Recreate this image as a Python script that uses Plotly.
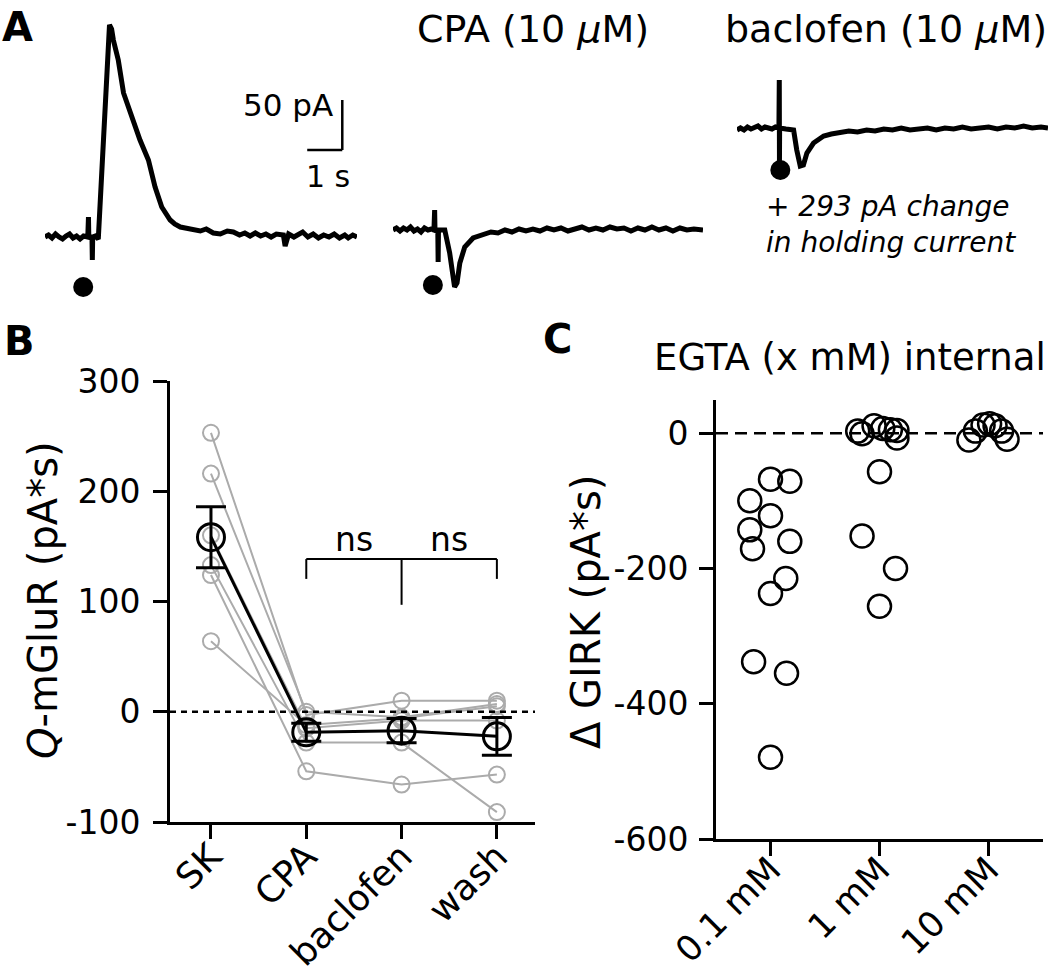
import numpy as np
import plotly.graph_objects as go

W, H = 1050, 974
FONT = "DejaVu Sans"

# ---------------- Panel A: example current traces (time s, current pA) ----------------
sk_t = [0.00, 0.10, 0.20, 0.30, 0.40, 0.50, 0.60, 0.70, 0.80, 0.90, 1.00, 1.10, 1.22, 1.24, 1.25, 1.34,
        1.35, 1.36, 1.44, 1.52, 1.84, 1.90, 1.95, 2.09, 2.24, 2.43, 2.60, 2.71, 2.95, 3.14, 3.33, 3.45,
        3.57, 3.70, 3.86, 4.00, 4.24, 4.43, 4.60, 4.80, 5.00, 5.20, 5.37, 5.55, 5.70, 5.85, 6.00, 6.15,
        6.30, 6.45, 6.60, 6.80, 6.85, 6.95, 7.10, 7.20, 7.35, 7.50, 7.65, 7.80, 7.95, 8.10, 8.25, 8.40,
        8.55, 8.65, 8.78, 8.90]
sk_i = [0, 2, -1, 3, 0, -2, 1, 3, -1, 1, -2, 1, 0, 20, 0, 0,
        -23, 0, 1, -2, 212, 208, 197, 177, 144, 124, 108, 97, 77, 50, 30, 23,
        17, 13, 10, 9, 7, 6, 8, 4, 3, 6, 5, 2, 4, 1, 4, 1,
        3, 0, 3, 2, -9, 3, 0, 2, 5, 0, 3, -1, 2, 0, 3, -1,
        2, -1, 2, 0]

cpa_t = [0.00, 0.10, 0.20, 0.30, 0.40, 0.50, 0.60, 0.70, 0.80, 0.90, 1.00, 1.10, 1.17, 1.19, 1.20, 1.28,
         1.29, 1.30, 1.48, 1.62, 1.76, 1.83, 1.91, 2.05, 2.29, 2.57, 2.80, 3.00, 3.20, 3.40, 3.60, 3.80,
         4.00, 4.20, 4.40, 4.60, 4.80, 5.00, 5.20, 5.40, 5.60, 5.80, 6.00, 6.20, 6.40, 6.60, 6.80, 7.00,
         7.20, 7.40, 7.60, 7.80, 8.00, 8.20, 8.40, 8.60, 8.86]
cpa_i = [0, 2, -1, 2, 0, 3, -1, 1, -2, 2, 0, 1, 0, 20, 0, 0,
         -32, 0, 0, -23, -57, -53, -33, -17, -8, -4, -2, -3, 0, -2, 1, -1,
         1, -1, 2, 0, 2, -1, 1, 3, 0, 2, 0, 3, 1, 2, -1, 2,
         0, 3, 0, 2, -1, 2, 0, 1, 0]

bac_t = [0.00, 0.10, 0.20, 0.30, 0.40, 0.50, 0.60, 0.70, 0.80, 0.90, 1.00, 1.10, 1.20, 1.21, 1.215, 1.22,
         1.40, 1.62, 1.71, 1.81, 1.90, 2.00, 2.19, 2.48, 2.70, 2.95, 3.20, 3.45, 3.71, 3.95, 4.20, 4.45,
         4.70, 4.95, 5.20, 5.45, 5.70, 5.95, 6.20, 6.45, 6.70, 6.95, 7.20, 7.45, 7.70, 7.95, 8.20, 8.45,
         8.70, 8.90]
bac_i = [-2, 0, -2, 1, -1, 0, 2, -1, 1, 0, -1, 1, 0, 48, -33, 0,
         -1, -2, -22, -38, -37, -25, -15, -8, -6, -5, -3, -4, -2, -3, -1, -2,
         0, -2, -1, 0, -2, 0, -1, 1, -1, 0, 1, -1, 1, 0, 2, 0,
         1, 0]

stim_t = [1.09, 1.14, 1.24]
stim_i = [-50, -55, -42]

# ---------------- Panel B: Q-mGluR per cell ----------------
b_categories = ["SK", "CPA", "baclofen", "wash"]
cell_1 = [253, -3, 10, 10]
cell_2 = [216, 0, -5, 7]
cell_3 = [160, -15, -8, -8]
cell_4 = [133, -28, -28, -91]
cell_5 = [124, -54, -66, -57]
cell_6 = [64, -12, -6, 5]
b_cells = [cell_1, cell_2, cell_3, cell_4, cell_5, cell_6]
b_ytick_vals = [-100, 0, 100, 200, 300]
b_ytick_text = ["-100", "0", "100", "200", "300"]

# ---------------- Panel C: delta GIRK ----------------
c_categories = ["0.1 mM", "1 mM", "10 mM"]
girk_01 = [-68, -71, -100, -122, -143, -160, -171, -215, -237, -338, -355, -479]
jit_01 = [0.0, 0.177, -0.19, 0.0, -0.19, 0.177, -0.165, 0.14, 0.0, -0.155, 0.147, 0.0]
girk_1 = [3, -1, 11, 7, 5, 4, -7, -57, -152, -200, -256]
jit_1 = [-0.20, -0.16, -0.05, 0.03, 0.10, 0.16, 0.16, 0.0, -0.16, 0.147, 0.0]
girk_10 = [-10, 3, 12, 14, 11, 3, -9]
jit_10 = [-0.18, -0.12, -0.05, 0.01, 0.06, 0.12, 0.17]
c_ytick_vals = [-600, -400, -200, 0]
c_ytick_text = ["-600", "-400", "-200", "0"]


def px(x):
    return x / W


def py(y):
    return 1 - y / H


fig = go.Figure()

# ---- Panel A traces ----
trace_line = dict(color="black", width=5)
fig.add_trace(go.Scatter(x=sk_t, y=sk_i, mode="lines", line=trace_line, xaxis="x2", yaxis="y2", showlegend=False))
fig.add_trace(go.Scatter(x=cpa_t, y=cpa_i, mode="lines", line=trace_line, xaxis="x3", yaxis="y3", showlegend=False))
fig.add_trace(go.Scatter(x=bac_t, y=bac_i, mode="lines", line=trace_line, xaxis="x4", yaxis="y4", showlegend=False))
for k, (xa, ya) in enumerate([("x2", "y2"), ("x3", "y3"), ("x4", "y4")]):
    fig.add_trace(go.Scatter(x=[stim_t[k]], y=[stim_i[k]], mode="markers",
                             marker=dict(color="black", size=20), xaxis=xa, yaxis=ya, showlegend=False))

# ---- Panel B ----
b_x = list(range(len(b_categories)))
for cell in b_cells:
    fig.add_trace(go.Scatter(x=b_x, y=cell, mode="lines+markers",
                             line=dict(color="#ababab", width=2),
                             marker=dict(symbol="circle-open", size=16, color="#ababab", line=dict(width=2)),
                             xaxis="x", yaxis="y", showlegend=False))
arr = np.array(b_cells, dtype=float)
b_mean = arr.mean(axis=0)
b_sem = arr.std(axis=0, ddof=1) / np.sqrt(arr.shape[0])
fig.add_trace(go.Scatter(x=b_x, y=b_mean, mode="lines+markers",
                         line=dict(color="black", width=3),
                         marker=dict(symbol="circle-open", size=27, color="black", line=dict(width=3)),
                         error_y=dict(type="data", array=b_sem, visible=True, color="black", thickness=3, width=15),
                         xaxis="x", yaxis="y", showlegend=False))

# ---- Panel C ----
c_groups = [(girk_01, jit_01), (girk_1, jit_1), (girk_10, jit_10)]
for gi, (vals, jit) in enumerate(c_groups):
    fig.add_trace(go.Scatter(x=[gi + j for j in jit], y=vals, mode="markers",
                             marker=dict(symbol="circle-open", size=23, color="black", line=dict(width=2.5)),
                             xaxis="x5", yaxis="y5", showlegend=False))

axis_common = dict(showgrid=False, zeroline=False, showline=True, linecolor="black", linewidth=3,
                   ticks="outside", ticklen=14, tickwidth=3, tickcolor="black", automargin=False)
ytick_font = dict(family=FONT, size=33, color="black")
xtick_font = dict(family=FONT, size=36, color="black")
xtick_font_c = dict(family=FONT, size=35, color="black")
hidden = dict(visible=False, showgrid=False, zeroline=False, automargin=False)

# A axes: 35 px per s, 1 px per pA
a_dom_y = [py(310), py(0)]
fig.update_layout(
    xaxis2=dict(hidden, domain=[px(45), px(357)], range=[0, 8.9], anchor="y2"),
    yaxis2=dict(hidden, domain=a_dom_y, range=[-73, 237], anchor="x2"),
    xaxis3=dict(hidden, domain=[px(393), px(703)], range=[0, 8.86], anchor="y3"),
    yaxis3=dict(hidden, domain=a_dom_y, range=[-80, 230], anchor="x3"),
    xaxis4=dict(hidden, domain=[px(737), px(1048)], range=[0, 8.9], anchor="y4"),
    yaxis4=dict(hidden, domain=a_dom_y, range=[-182, 128], anchor="x4"),
)

fig.update_layout(
    xaxis=dict(axis_common, domain=[px(170), px(535)], range=[-0.43, 3.40], anchor="y",
               tickvals=b_x, ticktext=b_categories, tickangle=-45, tickfont=xtick_font,
               ticklabelstandoff=-18),
    yaxis=dict(axis_common, domain=[py(822), py(381)], range=[-100, 300], anchor="x",
               tickvals=b_ytick_vals, ticktext=b_ytick_text, tickfont=ytick_font, ticklabelstandoff=6),
    xaxis5=dict(axis_common, domain=[px(716), px(1043)], range=[-0.5, 2.5], anchor="y5",
                tickvals=[0, 1, 2], ticktext=c_categories, tickangle=-45, tickfont=xtick_font_c,
                ticklabelstandoff=-21),
    yaxis5=dict(axis_common, domain=[py(839), py(400)], range=[-600, 49], anchor="x5",
                tickvals=c_ytick_vals, ticktext=c_ytick_text, tickfont=ytick_font, ticklabelstandoff=4),
)

shapes = []
# scale bar (panel A, first trace axes)
shapes.append(dict(type="line", xref="x2", yref="y2", x0=8.48, x1=8.48, y0=87, y1=137, line=dict(color="black", width=2.5)))
shapes.append(dict(type="line", xref="x2", yref="y2", x0=7.48, x1=8.48, y0=87, y1=87, line=dict(color="black", width=2.5)))
# dashed zero lines
shapes.append(dict(type="line", xref="x domain", yref="y", x0=0, x1=1, y0=0, y1=0,
                   line=dict(color="black", width=2.5, dash="6px,5px")))
shapes.append(dict(type="line", xref="x5 domain", yref="y5", x0=0, x1=1, y0=0, y1=0,
                   line=dict(color="black", width=2.5, dash="12px,7px")))
# ns bracket
br = dict(color="black", width=2)
shapes.append(dict(type="line", xref="x", yref="y", x0=1, x1=3, y0=138.5, y1=138.5, line=br))
shapes.append(dict(type="line", xref="x", yref="y", x0=1, x1=1, y0=138.5, y1=120.5, line=br))
shapes.append(dict(type="line", xref="x", yref="y", x0=3, x1=3, y0=138.5, y1=120.5, line=br))
shapes.append(dict(type="line", xref="x", yref="y", x0=2, x1=2, y0=138.5, y1=97, line=br))
fig.update_layout(shapes=shapes)


def ann(text, x, y, size, xanchor="center", yanchor="middle", angle=0, bold=False, italic=False, align="center"):
    t = text
    if bold:
        t = "<b>" + t + "</b>"
    if italic:
        t = "<i>" + t + "</i>"
    return dict(text=t, x=px(x), y=py(y), xref="paper", yref="paper", showarrow=False,
                xanchor=xanchor, yanchor=yanchor, textangle=angle, align=align,
                font=dict(family=FONT, size=size, color="black"))


annotations = [
    ann("A", 0, 27, 40, xanchor="left", bold=True),
    ann("B", 2, 341, 40, xanchor="left", bold=True),
    ann("C", 541, 339, 40, xanchor="left", bold=True),
    ann("CPA (10 <i>μ</i>M)", 533, 29, 38),
    ann("baclofen (10 <i>μ</i>M)", 886, 29, 38),
    ann("50 pA", 335, 105, 31, xanchor="right"),
    ann("1 s", 328, 176, 30),
    ann("+ 293 pA change<br>in holding current", 764, 225, 28, xanchor="left", italic=True, align="left"),
    ann("EGTA (x mM) internal", 850, 357, 37),
    ann("<i>Q</i>-mGluR (pA*s)", 43, 600, 40, angle=-90),
    ann("Δ GIRK (pA*s)", 586, 612, 40, angle=-90),
]
for xv in [1.5, 2.5]:
    annotations.append(dict(text="ns", x=xv, y=156, xref="x", yref="y", showarrow=False,
                            xanchor="center", yanchor="middle",
                            font=dict(family=FONT, size=33, color="black")))
fig.update_layout(annotations=annotations)

fig.update_layout(width=W, height=H, margin=dict(l=0, r=0, t=0, b=0, autoexpand=False),
                  paper_bgcolor="white", plot_bgcolor="rgba(0,0,0,0)", showlegend=False,
                  font=dict(family=FONT, color="black"))

fig.write_html("out.html", config={"displayModeBar": False, "staticPlot": True},
               post_script="document.body.style.margin='0px';")
